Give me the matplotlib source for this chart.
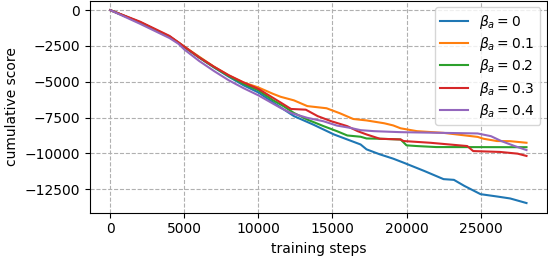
import matplotlib
matplotlib.use("Agg")
import matplotlib.pyplot as plt

labels = [r'$\beta_a=0$', r'$\beta_a=0.1$', r'$\beta_a=0.2$', r'$\beta_a=0.3$', r'$\beta_a=0.4$']

steps_b0 = [0, 2000, 4000, 4600, 5000, 6000, 7000, 8000, 9000, 10000, 11000, 12400, 13700, 15100,
            16000, 16900, 17300, 18200, 19100, 19800, 21200, 22500, 23200, 23900, 25000, 26100, 27000, 28100]
score_b0 = [0, -850, -1850, -2280, -2580, -3320, -4000, -4650, -5250, -5750, -6450, -7400, -7990, -8680,
            -9030, -9380, -9720, -10070, -10370, -10650, -11230, -11800, -11850, -12270, -12850, -13010, -13150, -13470]

steps_b1 = [0, 2000, 4000, 4600, 5000, 6000, 7000, 8000, 9000, 10000, 11000, 11500, 12400, 13300, 14600,
            15500, 16400, 17300, 18500, 19100, 19600, 20700, 22500, 23400, 24800, 25200, 26100, 27000, 28100]
score_b1 = [0, -850, -1850, -2250, -2550, -3250, -3950, -4550, -5050, -5400, -5850, -6050, -6300, -6700, -6850,
            -7200, -7600, -7700, -7900, -8050, -8250, -8450, -8570, -8680, -8850, -8980, -9140, -9150, -9260]

steps_b2 = [0, 2000, 4000, 4600, 5000, 6000, 7000, 8000, 9000, 10000, 11000, 11700, 12400, 13300, 14400,
            15300, 16000, 16900, 17300, 18200, 19600, 20000, 20700, 22000, 28100]
score_b2 = [0, -850, -1850, -2280, -2580, -3300, -3980, -4600, -5150, -5600, -6300, -6710, -7180, -7640, -8100,
            -8450, -8750, -8840, -8960, -8980, -9030, -9440, -9490, -9560, -9570]

steps_b3 = [0, 2000, 4000, 4600, 5000, 6000, 7000, 8000, 9000, 10000, 11500, 12200, 13200, 14000, 14900,
            16000, 16700, 17300, 18200, 19600, 19800, 21600, 24100, 24500, 26300, 27500, 28100]
score_b3 = [0, -800, -1800, -2250, -2550, -3300, -3950, -4550, -5050, -5500, -6450, -6900, -6950, -7400, -7750,
            -8100, -8450, -8680, -8980, -9030, -9140, -9260, -9490, -9840, -9900, -10020, -10180]

steps_b4 = [0, 2000, 4000, 4600, 5000, 6000, 7000, 8000, 9000, 10000, 11500, 12200, 13300, 14400, 15300,
            16200, 16900, 17800, 19600, 24800, 25700, 26400, 27300, 28100]
score_b4 = [0, -950, -1950, -2350, -2750, -3550, -4250, -4900, -5450, -5950, -6830, -7180, -7520, -7760, -8060,
            -8220, -8380, -8450, -8520, -8610, -8800, -9140, -9490, -9770]

series = [(steps_b0, score_b0), (steps_b1, score_b1), (steps_b2, score_b2),
          (steps_b3, score_b3), (steps_b4, score_b4)]
colors = ['#1f77b4', '#ff7f0e', '#2ca02c', '#d62728', '#9467bd']

fig = plt.figure(figsize=(5.48, 2.58), dpi=100)
ax = fig.add_axes([89.5/548, 45.3/258, 457.8/548, 212.2/258])
for (s, v), lab, c in zip(series, labels, colors):
    ax.plot(s, v, color=c, label=lab, linewidth=1.5)
ax.grid(True, linestyle='--', color='#b0b0b0')
ax.set_xlabel('training steps')
ax.set_ylabel('cumulative score')
ax.set_xticks([0, 5000, 10000, 15000, 20000, 25000])
ax.set_yticks([0, -2500, -5000, -7500, -10000, -12500])
ax.legend(loc='upper right', labelspacing=0.3)
fig.savefig('out.png', dpi=100)
